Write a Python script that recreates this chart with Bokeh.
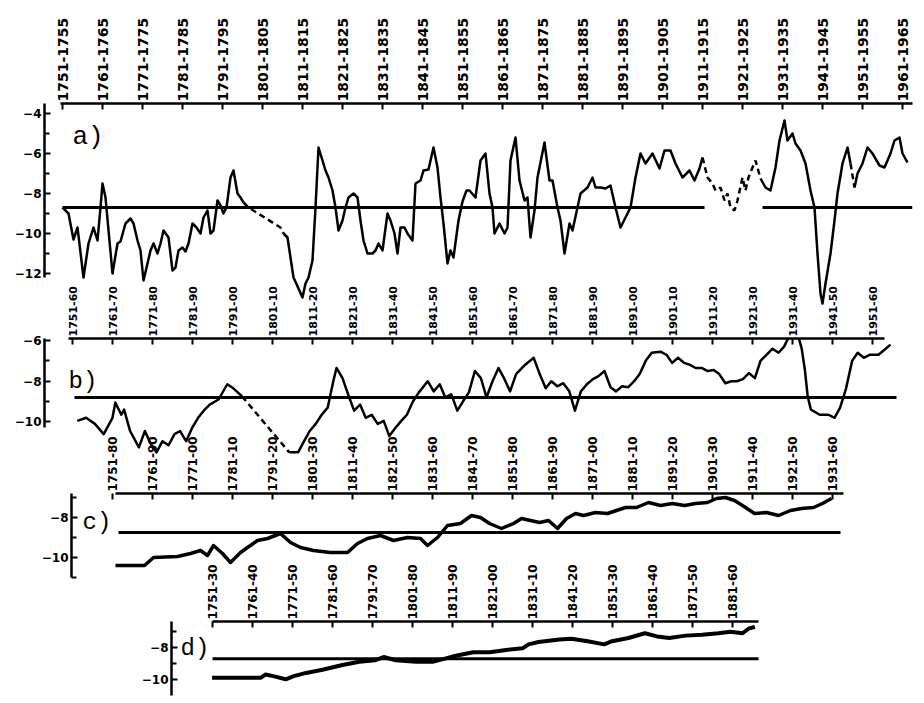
import math
from bokeh.plotting import figure
from bokeh.layouts import column
from bokeh.models import Range1d, FixedTicker, CustomJSTickFormatter, Label
from bokeh.embed import file_html
from bokeh.resources import INLINE

# ---------------- data ----------------
# panel a: 5-year running means
a_years = [1753, 1754.5, 1755.75, 1756.75, 1758.25, 1759.5, 1760.75, 1761.75, 1762.5, 1763, 1763.75,
           1765.5, 1766.75, 1767.5, 1768.75, 1770, 1770.75, 1771.75, 1772.5, 1773.25, 1774.25, 1775, 1775.75, 1776.75, 1777.5, 1778.25, 1779.5,
           1780.5, 1781.25, 1782, 1783, 1783.75, 1784.5, 1785.5, 1786.5, 1787.5, 1788.25, 1789.25, 1790, 1790.75, 1791.75, 1792.5, 1793.25, 1794, 1795, 1795.75, 1796.75, 1797.5, 1798.25, 1799.5,
           1807.5, 1808.25, 1809.25, 1810, 1810.75, 1812, 1813, 1813.75, 1814.5, 1815.5, 1816.25, 1817, 1818, 1818.75, 1819.5, 1820.5,
           1821.25, 1822, 1823, 1823.75, 1824.5, 1825.75, 1826.75, 1827.5, 1828.25, 1829.25, 1830.5, 1831.25, 1832, 1833, 1834.25, 1835, 1836, 1836.75, 1837.5, 1838.5, 1839.25, 1840.5,
           1841.25, 1842.5, 1843.25, 1844.5, 1845.75, 1846.75, 1847.5, 1848.25, 1849.25, 1850, 1850.75, 1852, 1853, 1854, 1854.75, 1856.25, 1857.5, 1858.75, 1859.75, 1860.5,
           1861, 1862.25, 1863.5, 1864.25, 1865, 1866.25, 1867.25, 1868.5, 1869.25, 1870, 1871, 1871.75, 1873.5, 1874.75, 1875.5, 1876.75, 1877.5, 1878.5, 1879.75, 1880.5,
           1881.75, 1882.5, 1884.25, 1885.5, 1886.25, 1887.5, 1888.75, 1890, 1891.25, 1892.5, 1893.75, 1895, 1896.25, 1897.5, 1898.75, 1900.5,
           1902.25, 1903.5, 1905, 1906.25, 1908, 1909.75, 1911, 1912.25, 1913, 1914.25, 1915.5, 1916.25, 1917.5, 1918.5, 1919.25, 1920, 1921, 1921.75,
           1923, 1923.75, 1924.5, 1925.5, 1926.25, 1927.5, 1928.75, 1930, 1931.25, 1932.25, 1933.5, 1934.25, 1935.5, 1936.25, 1937.5, 1938.75, 1940, 1941,
           1941.75, 1942.5, 1943, 1943.75, 1945, 1946, 1946.75, 1948, 1949.25, 1950, 1951, 1951.75, 1953, 1954.25, 1955.5, 1957.25, 1958.5, 1960, 1961, 1962.25, 1963, 1964.25]
a_vals = [-8.7, -9.0, -10.3, -9.7, -12.2, -10.5, -9.7, -10.35, -8.7, -7.5, -8.2,
          -12.0, -10.5, -10.4, -9.5, -9.25, -9.5, -10.35, -10.85, -12.35, -11.5, -10.85, -10.5, -11.0, -10.5, -9.85, -10.2,
          -11.85, -11.7, -10.85, -10.7, -10.9, -10.5, -9.5, -9.7, -10.0, -9.2, -8.85, -10.0, -9.85, -8.35, -8.6, -9.0, -8.7, -7.2, -6.85, -8.0, -8.2, -8.45, -8.7,
          -9.7, -10.0, -10.2, -11.2, -12.2, -12.75, -13.2, -12.5, -12.2, -11.35, -8.7, -5.7, -6.35, -6.85, -7.2, -7.85,
          -8.7, -9.85, -9.35, -8.7, -8.2, -8.0, -8.2, -9.35, -10.35, -11.0, -11.0, -10.85, -10.5, -10.85, -9.0, -9.35, -10.0, -11.0, -9.7, -9.7, -10.0, -10.35,
          -7.5, -7.35, -6.85, -6.8, -5.7, -6.7, -8.2, -9.5, -11.5, -10.85, -11.2, -9.35, -8.4, -7.85, -7.85, -8.2, -6.35, -6.0, -8.0, -8.7,
          -10.0, -9.5, -10.0, -9.7, -6.35, -5.2, -7.35, -8.35, -8.2, -10.2, -8.85, -7.2, -5.45, -7.35, -7.35, -8.7, -9.35, -11.0, -9.5, -9.85,
          -8.7, -8.0, -7.7, -7.2, -7.7, -7.7, -7.75, -7.6, -8.7, -9.7, -9.2, -8.7, -7.2, -6.0, -6.5, -6.0,
          -6.75, -5.85, -5.85, -6.5, -7.2, -6.85, -7.35, -6.75, -6.2, -7.2, -7.5, -7.85, -7.7, -8.35, -8.0, -8.7, -8.85, -8.35,
          -7.2, -7.85, -7.2, -6.7, -6.35, -7.25, -7.7, -7.85, -6.7, -5.35, -4.35, -5.35, -5.0, -5.5, -5.85, -6.5, -7.85, -8.7,
          -11.0, -13.0, -13.5, -12.5, -11.0, -9.35, -8.0, -6.5, -5.7, -6.5, -7.7, -7.0, -6.5, -5.7, -6.0, -6.6, -6.7, -6.0, -5.35, -5.2, -6.0, -6.45]
a_gaps = [(1798.25, 1808.25), (1913, 1927.5), (1950, 1951)]
a_mean = -8.7
a_mean_spans = [(1753, 1913.5), (1928, 1965.5)]

# panel b: 10-year running means
b_years = [1756.7, 1758.9, 1761.1, 1763.3, 1765.5, 1766.2, 1767.7, 1768.4, 1769.9, 1772.1, 1773.6, 1775.1, 1776.5, 1778.0, 1779.5, 1781.0, 1782.4, 1783.9, 1785.4, 1786.9, 1788.3, 1789.8, 1792.0, 1794.2, 1795.7, 1797.9,
           1809.7, 1811.9, 1813.4, 1814.8, 1816.3, 1817.8, 1819.3, 1820.7, 1821.5, 1823.0, 1824.4, 1825.9, 1827.4, 1828.8, 1830.3, 1831.8, 1833.3, 1834.7, 1836.2, 1837.7, 1839.1, 1840.6,
           1842.1, 1844.3, 1845.8, 1847.3, 1848.7, 1850.2, 1851.7, 1853.1, 1854.6, 1856.1, 1857.6, 1859.0, 1860.5, 1862.0, 1863.5, 1864.9, 1866.4, 1868.6, 1870.8, 1872.3, 1873.8,
           1875.2, 1876.7, 1878.2, 1879.7, 1881.1, 1882.6, 1884.1, 1885.6, 1887.0, 1888.5, 1890.0, 1891.4, 1892.9, 1894.4, 1895.9, 1897.3, 1898.8, 1900.3, 1902.5, 1904.0, 1905.4, 1906.9, 1908.4, 1909.9,
           1911.3, 1912.8, 1914.3, 1915.8, 1917.2, 1918.7, 1920.2, 1921.6, 1923.1, 1924.6, 1926.1, 1927.5, 1929.0, 1930.5, 1932.0, 1933.4, 1934.9, 1936.4, 1937.8, 1938.6, 1939.3, 1940.1,
           1942.3, 1944.5, 1946.0, 1947.4, 1948.9, 1950.4, 1951.8, 1953.3, 1954.8, 1957.0, 1958.5, 1960.0]
b_vals = [-9.95, -9.8, -10.1, -10.6, -9.8, -9.05, -9.65, -9.4, -10.45, -11.25, -10.45, -11.1, -11.5, -10.95, -11.15, -10.6, -10.45, -10.95, -10.3, -9.8, -9.45, -9.15, -8.9, -8.15, -8.35, -8.75,
          -11.5, -11.5, -10.95, -10.45, -10.1, -9.65, -9.3, -8.0, -7.35, -7.85, -8.65, -9.45, -9.15, -9.8, -9.65, -10.1, -9.95, -10.7, -10.3, -9.95, -9.65, -9.0,
          -8.55, -8.0, -8.5, -8.15, -8.8, -8.65, -9.45, -9.0, -8.55, -7.5, -7.85, -8.8, -8.0, -7.35, -7.9, -8.5, -7.65, -7.2, -6.85, -7.65, -8.35,
          -8.0, -8.25, -8.1, -8.5, -9.45, -8.5, -8.15, -7.9, -7.75, -7.5, -8.3, -8.5, -8.25, -8.3, -8.0, -7.65, -7.0, -6.6, -6.55, -6.7, -7.1, -6.85, -7.1, -7.2,
          -7.35, -7.35, -7.5, -7.45, -7.65, -8.1, -8.0, -8.0, -7.9, -7.6, -7.85, -7.0, -6.7, -6.4, -6.6, -6.3, -5.7, -5.4, -6.4, -7.45, -8.75, -9.4,
          -9.65, -9.65, -9.8, -9.3, -8.35, -7.0, -6.6, -6.85, -6.7, -6.7, -6.45, -6.2]
b_gaps = [(1797.9, 1809.7)]
b_mean = -8.8
b_mean_spans = [(1756, 1961.5)]

# panel c: 30-year running means
c_years = [1766.25, 1773.5, 1775.75, 1781.75, 1785, 1787.5, 1789.25, 1790.75, 1793, 1795, 1797.5, 1799.25, 1801.75, 1804.25, 1807.5, 1810, 1812.5, 1815.75, 1820, 1824.25, 1826.75, 1829.25, 1832.5, 1835.75, 1839.25, 1842.5, 1844.25, 1846.75, 1849.25,
           1852.5, 1855.25, 1857.5, 1859.75, 1862.75, 1865.75, 1867.75, 1870, 1872.25, 1874.5, 1876.75, 1879, 1881.25, 1883.25, 1886.25, 1889.25, 1891.5, 1893.75, 1896.5, 1899.5, 1902.5, 1905.5, 1908.5, 1911.25, 1914.25, 1916.5, 1918.75, 1921, 1923, 1926, 1929, 1932, 1935, 1937.75, 1940.75, 1943, 1945.25]
c_vals = [-10.4, -10.4, -10.0, -9.95, -9.8, -9.65, -9.9, -9.4, -9.8, -10.25, -9.75, -9.5, -9.15, -9.05, -8.8, -9.25, -9.5, -9.65, -9.75, -9.75, -9.3, -9.05, -8.9, -9.15, -9.0, -9.05, -9.4, -9.0, -8.4,
          -8.3, -7.9, -8.0, -8.3, -8.55, -8.3, -8.05, -8.15, -8.25, -8.15, -8.55, -8.05, -7.8, -7.9, -7.75, -7.8, -7.65, -7.5, -7.5, -7.25, -7.4, -7.3, -7.4, -7.3, -7.25, -7.05, -7.0, -7.15, -7.4, -7.8, -7.75, -7.9, -7.65, -7.55, -7.5, -7.3, -7.05]
c_mean = -8.75
c_mean_spans = [(1767, 1947.5)]

# panel d: 80-year running means
d_years = [1790.4, 1802.6, 1803.7, 1805.7, 1808.8, 1810.8, 1813.9, 1818.0, 1823.0, 1827.2, 1831.2, 1833.3, 1836.3, 1841.4, 1845.5, 1848.6, 1851.6, 1855.7, 1859.8, 1863.9,
           1868.0, 1869.5, 1872.0, 1877.2, 1880.2, 1884.3, 1888.4, 1890.4, 1894.5, 1898.6, 1901.6, 1904.7, 1908.8, 1912.9, 1917.0, 1920.0, 1923.0, 1924.6, 1926.1]
d_vals = [-9.9, -9.9, -9.7, -9.8, -10.0, -9.8, -9.6, -9.4, -9.1, -8.9, -8.8, -8.6, -8.8, -8.9, -8.9, -8.7, -8.5, -8.3, -8.3, -8.15,
          -8.05, -7.8, -7.65, -7.5, -7.45, -7.6, -7.8, -7.6, -7.4, -7.1, -7.3, -7.4, -7.25, -7.2, -7.1, -7.0, -7.1, -6.8, -6.7]
d_mean = -8.7
d_mean_spans = [(1790.5, 1927)]

# tick labels (averaging periods)
a_tick_years = [1753, 1763, 1773, 1783, 1793, 1803, 1813, 1823, 1833, 1843, 1853, 1863, 1873, 1883, 1893, 1903, 1913, 1923, 1933, 1943, 1953, 1963]
a_tick_labels = ["1751-1755", "1761-1765", "1771-1775", "1781-1785", "1791-1795", "1801-1805", "1811-1815", "1821-1825",
                 "1831-1835", "1841-1845", "1851-1855", "1861-1865", "1871-1875", "1881-1885", "1891-1895", "1901-1905",
                 "1911-1915", "1921-1925", "1931-1935", "1941-1945", "1951-1955", "1961-1965"]
b_tick_years = [1755.5, 1765.5, 1775.5, 1785.5, 1795.5, 1805.5, 1815.5, 1825.5, 1835.5, 1845.5, 1855.5, 1865.5, 1875.5, 1885.5, 1895.5, 1905.5, 1915.5, 1925.5, 1935.5, 1945.5, 1955.5]
b_tick_labels = ["1751-60", "1761-70", "1771-80", "1781-90", "1791-00", "1801-10", "1811-20", "1821-30", "1831-40", "1841-50", "1851-60",
                 "1861-70", "1871-80", "1881-90", "1891-00", "1901-10", "1911-20", "1921-30", "1931-40", "1941-50", "1951-60"]
c_tick_years = [1765.5, 1775.5, 1785.5, 1795.5, 1805.5, 1815.5, 1825.5, 1835.5, 1845.5, 1855.5, 1865.5, 1875.5, 1885.5, 1895.5, 1905.5, 1915.5, 1925.5, 1935.5, 1945.5]
c_tick_labels = ["1751-80", "1761-90", "1771-00", "1781-10", "1791-20", "1801-30", "1811-40", "1821-50", "1831-60", "1841-70",
                 "1851-80", "1861-90", "1871-00", "1881-10", "1891-20", "1901-30", "1911-40", "1921-50", "1931-60"]
d_tick_years = [1790.5, 1800.5, 1810.5, 1820.5, 1830.5, 1840.5, 1850.5, 1860.5, 1870.5, 1880.5, 1890.5, 1900.5, 1910.5, 1920.5]
d_tick_labels = ["1751-30", "1761-40", "1771-50", "1781-60", "1791-70", "1801-80", "1811-90", "1821-00", "1831-10", "1841-20",
                 "1851-30", "1861-40", "1871-50", "1881-60"]

# ---------------- helpers ----------------
NAN = float("nan")
FONT = "DejaVu Sans"
W = 924


def split_gaps(xs, ys, gaps):
    sx, sy, dx, dy = [xs[0]], [ys[0]], [], []
    for i in range(1, len(xs)):
        a, b = xs[i - 1], xs[i]
        dashed = any(a >= g0 - 1e-9 and b <= g1 + 1e-9 for g0, g1 in gaps)
        if dashed:
            sx += [NAN, b]
            sy += [NAN, ys[i]]
            if dx and len(dx) >= 2 and dx[-2] == a:
                dx.pop(); dy.pop()
                dx += [b, NAN]; dy += [ys[i], NAN]
            else:
                dx += [a, b, NAN]; dy += [ys[i - 1], ys[i], NAN]
        else:
            sx.append(b); sy.append(ys[i])
    return sx, sy, dx, dy


def make_panel(x0, x1, y0, y1, height, left, top, ticks, labels, lab_size,
               xbounds, yticks, yminor, ybounds, margin_top):
    p = figure(width=W, height=height, x_range=Range1d(x0, x1), y_range=Range1d(y0, y1),
               output_backend="svg", toolbar_location=None, x_axis_location="above",
               min_border_left=left, min_border_top=top, min_border_right=12, min_border_bottom=0)
    try:
        p.frame_align = False
    except Exception:
        pass
    p.outline_line_color = None
    p.background_fill_color = None
    p.border_fill_color = None
    p.xgrid.visible = False
    p.ygrid.visible = False
    xa = p.xaxis[0]
    xa.ticker = FixedTicker(ticks=ticks, minor_ticks=[])
    xa.formatter = CustomJSTickFormatter(args=dict(vals=ticks, labs=labels), code="""
        const i = vals.findIndex(v => Math.abs(v - tick) < 1e-6);
        return i < 0 ? "" : labs[i];
    """)
    xa.major_label_orientation = "vertical"
    xa.major_label_text_font = FONT
    xa.major_label_text_font_style = "bold"
    xa.major_label_text_font_size = lab_size
    xa.major_label_text_color = "black"
    xa.major_label_standoff = 2
    xa.major_tick_in = 6
    xa.major_tick_out = 0
    xa.major_tick_line_width = 2
    xa.minor_tick_line_color = None
    xa.axis_line_width = 2.5
    xa.bounds = xbounds
    ya = p.yaxis[0]
    ya.ticker = FixedTicker(ticks=yticks, minor_ticks=yminor)
    ya.major_label_text_font = FONT
    ya.major_label_text_font_style = "bold"
    ya.major_label_text_font_size = "12px"
    ya.major_label_text_color = "black"
    ya.major_label_standoff = 3
    ya.major_tick_in = 6
    ya.major_tick_out = 0
    ya.minor_tick_in = 5
    ya.minor_tick_out = 0
    ya.major_tick_line_width = 2
    ya.minor_tick_line_width = 2
    ya.axis_line_width = 2.5
    ya.bounds = ybounds
    p.margin = (margin_top, 0, 0, 0)
    return p


def draw_series(p, xs, ys, gaps, width):
    sx, sy, dx, dy = split_gaps(xs, ys, gaps)
    p.line(sx, sy, line_color="black", line_width=width, line_join="round")
    if dx:
        p.line(dx, dy, line_color="black", line_width=width, line_dash="6 4")


def draw_mean(p, mean, spans, width):
    p.segment(x0=[s[0] for s in spans], x1=[s[1] for s in spans],
              y0=[mean] * len(spans), y1=[mean] * len(spans),
              line_color="black", line_width=width)


def tag(p, text, x, y, size):
    p.add_layout(Label(x=x, y=y, text=text, text_font="Liberation Mono", text_font_size=size,
                       text_baseline="top", text_align="left", text_color="black"))


# ---------------- panels ----------------
pa = make_panel(1748.5, 1965.5, -13.85, -3.5, 310, 44, 103, a_tick_years, a_tick_labels, "14px",
                (1752.5, 1965.5), [-12, -10, -8, -6, -4], [-11, -9, -7, -5], (-12.2, -3.5), 0)
draw_mean(pa, a_mean, a_mean_spans, 3)
draw_series(pa, a_years, a_vals, a_gaps, 2.5)
tag(pa, "a)", 1755.5, -4.4, "26px")

pb = make_panel(1748.5, 1965.5, -11.9, -5.9, 177, 44, 54, b_tick_years, b_tick_labels, "11px",
                (1754.5, 1958.5), [-10, -8, -6], [-9, -7], (-10.3, -5.9), -27)
draw_mean(pb, b_mean, b_mean_spans, 3)
draw_series(pb, b_years, b_vals, b_gaps, 2.5)
tag(pb, "b)", 1754.5, -7.35, "24px")

pc = make_panel(1755.25, 1965.5, -11.15, -6.8, 147, 71, 60, c_tick_years, c_tick_labels, "12px",
                (1766.25, 1948.25), [-10, -8], [-11, -9, -7], (-11.0, -6.8), -27)
draw_mean(pc, c_mean, c_mean_spans, 3)
draw_series(pc, c_years, c_vals, [], 3.5)
tag(pc, "c)", 1758.0, -7.55, "24px")

pd_ = make_panel(1780.25, 1965.5, -11.4, -6.36, 140, 171, 57, d_tick_years, d_tick_labels, "12px",
                 (1790.5, 1927), [-10, -8], [-9, -7], (-11.0, -6.36), -19)
draw_mean(pd_, d_mean, d_mean_spans, 3)
draw_series(pd_, d_years, d_vals, [], 4)
tag(pd_, "d)", 1782.5, -7.2, "24px")

layout = column(pa, pb, pc, pd_, spacing=0)
open("out.html", "w").write(file_html(layout, INLINE))
